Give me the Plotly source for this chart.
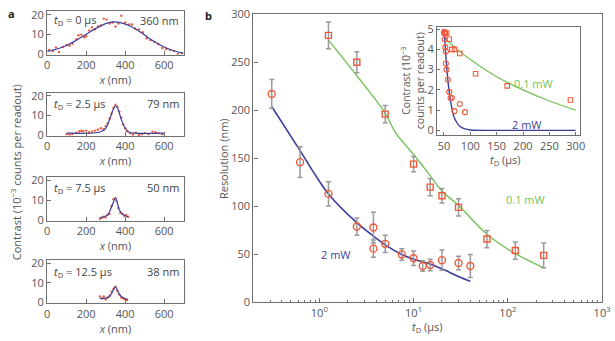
import math
import plotly.graph_objects as go

W, H = 615, 341

# ---------------- Panel a data ----------------
a1_x = [10, 30, 45, 60, 80, 100, 115, 130, 150, 160, 175, 190, 200, 215, 230, 245, 260, 275, 290, 305,
        320, 335, 350, 365, 380, 400, 420, 435, 450, 470, 490, 510, 530, 550, 570, 590, 610, 630, 650, 670, 690]
a1_y = [2, 1.5, 3.3, 1, 3.5, 4.5, 4.2, 5.2, 7.5, 9.5, 9.8, 8.5, 9, 12, 13.5, 12.5, 14, 14.5, 18, 17.5,
        15.5, 16, 14, 15.5, 19.5, 16, 15, 15, 13, 12.5, 11, 8, 7, 6, 5, 3, 2.5, 2, 1.5, 0, 0.5]
a1_fx = [0, 50, 100, 150, 200, 250, 300, 340, 380, 430, 480, 530, 580, 630, 700]
a1_fy = [1.3, 2.5, 4.3, 7, 10, 13, 15.4, 16.3, 15.8, 14, 11, 7.5, 4.5, 2.2, 0.3]

a2_x = [100, 115, 130, 150, 165, 175, 185, 200, 215, 230, 245, 260, 275, 290, 300, 310, 320, 330, 340, 350,
        360, 370, 380, 390, 400, 410, 425, 440, 455, 470, 485, 500, 520, 540, 555, 570, 590]
a2_y = [0.5, 0.3, 0.6, 1.2, 2, 2.2, 2, 2.3, 1.5, 1.8, 2.3, 2.8, 3.5, 3, 4.5, 6, 8.5, 11, 14, 15.5,
        14.5, 12, 9, 5.5, 3.5, 2, 1, 0.3, 1.2, 0, 0.5, 1, 0.5, 1.8, 1.5, 1, 0.5]
a2_fx = [100, 250, 280, 300, 320, 340, 350, 360, 380, 400, 420, 450, 600]
a2_fy = [1, 1.2, 2, 3.5, 8, 13.5, 15, 14, 8, 3.5, 1.5, 1, 1]

a3_x = [270, 280, 290, 300, 310, 320, 330, 340, 350, 355, 365, 375, 385, 395, 405, 415]
a3_y = [0.5, 1, 1.5, 1.2, 2.5, 3, 7, 10.5, 11, 9.5, 6, 3.5, 3, 2, 2.5, 1.5]
a3_fx = [270, 290, 310, 330, 350, 370, 385, 400, 415]
a3_fy = [1, 1.5, 2.5, 6.5, 11, 5, 3, 2, 1.5]

a4_x = [270, 280, 290, 300, 310, 320, 330, 340, 350, 360, 370, 380, 390, 400, 410]
a4_y = [3, 2, 3, 1.5, 2.5, 3.5, 5.5, 7, 8, 6, 4, 2.5, 2, 1.5, 1.2]
a4_fx = [270, 300, 320, 340, 350, 365, 380, 400, 415]
a4_fy = [2, 2.2, 3, 6.5, 8, 5, 3, 2, 1.5]

a_labels = ["<i>t</i><sub>D</sub> = 0 μs", "<i>t</i><sub>D</sub> = 2.5 μs",
            "<i>t</i><sub>D</sub> = 7.5 μs", "<i>t</i><sub>D</sub> = 12.5 μs"]
a_res = ["360 nm", "79 nm", "50 nm", "38 nm"]

# ---------------- Panel b data ----------------
c_t = [0.3125, 0.625, 1.25, 2.5, 3.75, 3.75, 5, 7.5, 10, 12.5, 15, 20, 30, 40]
c_r = [217, 146, 113, 79, 78, 56, 61, 50, 46, 38, 39, 44, 41, 38]
c_e = [15, 16, 12.5, 9, 16, 9, 9, 6, 7.5, 5.5, 6, 10.5, 7, 12]
c_ft = [0.3125, 0.625, 0.85, 1.25, 2.5, 3.75, 5, 7.5, 10, 15, 20, 30, 40]
c_fr = [204, 158, 137, 113, 83, 69, 60, 50, 45, 40, 35, 27, 22]

s_t = [1.25, 2.5, 5, 10, 15, 20, 30, 60, 120, 240]
s_r = [278, 250, 196, 144, 120, 111, 99, 66, 54, 49]
s_e = [14, 11, 9, 8, 9, 7.5, 9, 9, 9, 13]
s_ft = [1.25, 2.5, 5, 6.4, 10, 13.7, 20, 30, 60, 110, 240]
s_fr = [273, 236, 197, 177, 154, 137, 116, 101, 71, 53, 36]

# inset
ic_t = [50.3, 50.6, 51.25, 52.5, 53.75, 53.75, 55, 57.5, 60, 62.5, 65, 70, 80, 90]
ic_c = [4.85, 4.8, 4.5, 4.1, 3.9, 3.3, 3.0, 2.5, 1.9, 1.6, 1.6, 0.95, 1.3, 0.9]
is_t = [51.25, 52.5, 55, 60, 65, 70, 80, 110, 170, 290]
is_c = [4.85, 4.8, 4.8, 4.5, 4.0, 4.0, 3.8, 2.8, 2.2, 1.5]
ib_ft = [50, 52, 55, 60, 65, 70, 80, 90, 100, 150, 300]
ib_fc = [5.0, 4.3, 3.2, 1.9, 1.1, 0.6, 0.2, 0.07, 0.02, 0, 0]
ig_ft = [50, 75, 100, 150, 200, 250, 300]
ig_fc = [4.6, 4.0, 3.5, 2.65, 2.0, 1.45, 1.0]

BLUE = "#3b3f9c"
GREEN = "#72c256"
RED = "#ee5b3c"
GREY_ERR = "#9a9a9a"
TXT = "#555555"
AX = "#707070"
FONT = "Open Sans"


def px(x):
    return x / W


def py(y):
    return 1 - y / H


fig = go.Figure()

a_sets = [(a1_x, a1_y, a1_fx, a1_fy), (a2_x, a2_y, a2_fx, a2_fy),
          (a3_x, a3_y, a3_fx, a3_fy), (a4_x, a4_y, a4_fx, a4_fy)]
a_px = [(3.5, 49), (88.5, 134), (177, 222.5), (263.5, 309)]

for i, (dx, dy, fx, fy) in enumerate(a_sets):
    n = "" if i == 0 else str(i + 1)
    fig.add_trace(go.Scatter(x=dx, y=dy, mode="markers", xaxis="x" + n, yaxis="y" + n,
                             marker=dict(color=RED, size=2.4), showlegend=False))
    fig.add_trace(go.Scatter(x=fx, y=fy, mode="lines", xaxis="x" + n, yaxis="y" + n,
                             line=dict(color=BLUE, width=1.2, shape="spline"), showlegend=False))

# panel b
fig.add_trace(go.Scatter(x=c_ft, y=c_fr, mode="lines", xaxis="x5", yaxis="y5",
                         line=dict(color=BLUE, width=1.6, shape="spline"), showlegend=False))
fig.add_trace(go.Scatter(x=s_ft, y=s_fr, mode="lines", xaxis="x5", yaxis="y5",
                         line=dict(color=GREEN, width=1.4, shape="spline"), showlegend=False))
fig.add_trace(go.Scatter(x=c_t, y=c_r, mode="markers", xaxis="x5", yaxis="y5",
                         error_y=dict(type="data", array=c_e, color=GREY_ERR, thickness=1.5, width=2.5),
                         marker=dict(symbol="circle-open", color=RED, size=7, line=dict(width=1.4)),
                         showlegend=False))
fig.add_trace(go.Scatter(x=s_t, y=s_r, mode="markers", xaxis="x5", yaxis="y5",
                         error_y=dict(type="data", array=s_e, color=GREY_ERR, thickness=1.5, width=2.5),
                         marker=dict(symbol="square-open", color=RED, size=6, line=dict(width=1.4)),
                         showlegend=False))

# inset
fig.add_trace(go.Scatter(x=ig_ft, y=ig_fc, mode="lines", xaxis="x6", yaxis="y6",
                         line=dict(color=GREEN, width=1.2, shape="spline"), showlegend=False))
fig.add_trace(go.Scatter(x=ib_ft, y=ib_fc, mode="lines", xaxis="x6", yaxis="y6",
                         line=dict(color=BLUE, width=1.4, shape="spline"), showlegend=False))
fig.add_trace(go.Scatter(x=ic_t, y=ic_c, mode="markers", xaxis="x6", yaxis="y6",
                         marker=dict(symbol="circle-open", color=RED, size=5, line=dict(width=1.1)),
                         showlegend=False))
fig.add_trace(go.Scatter(x=is_t, y=is_c, mode="markers", xaxis="x6", yaxis="y6",
                         marker=dict(symbol="square-open", color=RED, size=4.5, line=dict(width=1.1)),
                         showlegend=False))

tickfont = dict(family=FONT, size=11, color=TXT)
base_ax = dict(showline=True, linecolor=AX, linewidth=1.2, mirror=True, ticks="inside",
               tickcolor=AX, ticklen=4, tickwidth=1, showgrid=False, zeroline=False,
               tickfont=tickfont)

layout = dict(width=W, height=H, margin=dict(l=0, r=0, t=0, b=0),
              paper_bgcolor="white", plot_bgcolor="rgba(0,0,0,0)",
              font=dict(family=FONT, color=TXT, size=11))

for i, (top, bot) in enumerate(a_px):
    n = "" if i == 0 else str(i + 1)
    xk = "xaxis" + n
    yk = "yaxis" + n
    layout[xk] = dict(base_ax, domain=[px(45), px(184)], range=[0, 700], anchor="y" + n,
                      tickvals=[0, 200, 400, 600],
                      title=dict(text="<i>x</i> (nm)", font=dict(family=FONT, size=11, color=TXT),
                                 standoff=4))
    layout[yk] = dict(base_ax, domain=[py(bot), py(top)], range=[-0.5, 21.7], anchor="x" + n,
                      tickvals=[0, 10, 20])

layout["xaxis5"] = dict(base_ax, type="log", domain=[px(255), px(610)],
                        range=[-0.699, 3.0], anchor="y5",
                        tickvals=[1, 10, 100, 1000],
                        ticktext=["10<sup>0</sup>", "10<sup>1</sup>", "10<sup>2</sup>", "10<sup>3</sup>"],
                        minor=dict(tickmode="array",
                                   tickvals=[0.3, 0.4, 0.5, 0.6, 0.7, 0.8, 0.9,
                                             2, 3, 4, 5, 6, 7, 8, 9,
                                             20, 30, 40, 50, 60, 70, 80, 90,
                                             200, 300, 400, 500, 600, 700, 800, 900],
                                   ticks="inside", ticklen=2.5, tickcolor=AX, showgrid=False))
layout["yaxis5"] = dict(base_ax, domain=[py(308), py(6.5)], range=[0, 300], anchor="x5",
                        tickvals=[0, 50, 100, 150, 200, 250, 300])

layout["xaxis6"] = dict(base_ax, domain=[px(442), px(588)], range=[37, 309], anchor="y6",
                        tickvals=[50, 100, 150, 200, 250, 300], ticklen=3)
layout["yaxis6"] = dict(base_ax, domain=[py(133.3), py(20)], range=[-0.25, 5.1], anchor="x6",
                        tickvals=[0, 1, 2, 3, 4, 5], ticklen=3)

fig.update_layout(**layout)

ann = []
# panel letters
ann.append(dict(text="<b>a</b>", x=px(3), y=py(6), xanchor="left", yanchor="middle",
                font=dict(family=FONT, size=11, color="#222")))
ann.append(dict(text="<b>b</b>", x=px(204), y=py(8), xanchor="left", yanchor="middle",
                font=dict(family=FONT, size=11, color="#222")))

# panel a in-plot labels
a_lab_y = [13, 100, 188, 276]
for i in range(4):
    ann.append(dict(text=a_labels[i], x=px(50), y=py(a_lab_y[i]), xanchor="left", yanchor="middle",
                    font=dict(family=FONT, size=11, color="#444")))
    ann.append(dict(text=a_res[i], x=px(181), y=py(a_lab_y[i]), xanchor="right", yanchor="middle",
                    font=dict(family=FONT, size=11, color="#444")))

# panel a y title
ann.append(dict(text="Contrast (10<sup>−3</sup> counts per readout)", x=px(14), y=py(172),
                textangle=-90, xanchor="center", yanchor="middle",
                font=dict(family=FONT, size=11, color=TXT)))

# panel b titles
ann.append(dict(text="Resolution (nm)", x=px(224), y=py(157), textangle=-90,
                xanchor="center", yanchor="middle", font=dict(family=FONT, size=11, color=TXT)))
ann.append(dict(text="<i>t</i><sub>D</sub> (μs)", x=px(432), y=py(334),
                xanchor="center", yanchor="middle", font=dict(family=FONT, size=11, color=TXT)))

# inset titles
ann.append(dict(text="Contrast (10<sup>−3</sup><br>counts per readout)", x=px(417), y=py(76),
                textangle=-90, xanchor="center", yanchor="middle",
                font=dict(family=FONT, size=10.5, color=TXT)))
ann.append(dict(text="<i>t</i><sub>D</sub> (μs)", x=px(512), y=py(159),
                xanchor="center", yanchor="middle", font=dict(family=FONT, size=11, color=TXT)))

# series labels (log axis -> log10 positions)
ann.append(dict(text="2 mW", x=math.log10(1.5), y=50, xref="x5", yref="y5", xanchor="center",
                yanchor="middle", showarrow=False, font=dict(family=FONT, size=11, color=BLUE)))
ann.append(dict(text="0.1 mW", x=math.log10(155), y=107, xref="x5", yref="y5", xanchor="center",
                yanchor="middle", showarrow=False, font=dict(family=FONT, size=11, color=GREEN)))
ann.append(dict(text="0.1 mW", x=220, y=2.3, xref="x6", yref="y6", xanchor="center", yanchor="middle",
                showarrow=False, font=dict(family=FONT, size=11, color=GREEN)))
ann.append(dict(text="2 mW", x=207, y=0.3, xref="x6", yref="y6", xanchor="center", yanchor="middle",
                showarrow=False, font=dict(family=FONT, size=11, color=BLUE)))

for a in ann:
    a.setdefault("xref", "paper")
    a.setdefault("yref", "paper")
    a.setdefault("showarrow", False)

fig.update_layout(annotations=ann)
fig.write_html("out.html")
